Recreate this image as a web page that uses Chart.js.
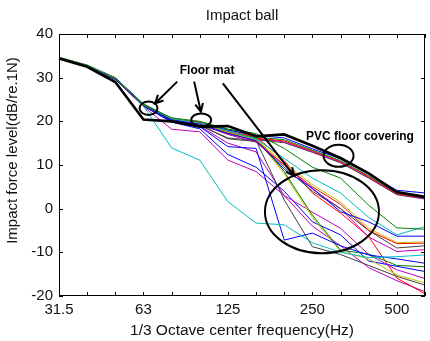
<!DOCTYPE html>
<html>
<head>
<meta charset="utf-8">
<script src="https://cdn.jsdelivr.net/npm/chart.js@4"></script>
<style>
html, body { margin: 0; padding: 0; background: #fff; }
#wrap { width: 430px; height: 341px; }
</style>
</head>
<body>
<div id="wrap"><canvas id="graph" width="430" height="341"></canvas></div>
<script>
// 1/3 octave bands and the labels that are printed
var bands = ['31.5', '40', '50', '63', '80', '100', '125', '160', '200', '250', '315', '400', '500', '630'];
var tickLabels = ['31.5', '63', '125', '250', '500'];

// bare floor (thick black)
var bareFloor = [34.4, 32.5, 29.0, 20.4, 20.0, 18.8, 18.9, 16.6, 17.0, 14.4, 11.6, 8.1, 3.8, 2.7];

// PVC floor covering
var pvcBlue    = [34.6, 32.8, 29.9, 23.9, 20.6, 19.6, 18.0, 16.8, 16.2, 13.7, 11.4, 7.9, 4.2, 3.6];
var pvcGreen   = [34.5, 32.7, 29.7, 23.6, 20.4, 19.8, 18.2, 16.4, 15.8, 13.4, 11.0, 7.5, 3.6, 2.5];
var pvcRed     = [34.6, 32.8, 29.8, 23.7, 20.5, 19.3, 17.8, 16.2, 15.5, 13.2, 10.8, 7.3, 3.4, 2.4];
var pvcMagenta = [34.5, 32.6, 29.6, 23.5, 20.3, 19.5, 17.6, 16.0, 15.3, 13.0, 10.6, 7.1, 3.3, 2.3];
var pvcGray    = [34.7, 32.9, 30.0, 24.0, 20.7, 19.0, 17.4, 15.8, 15.1, 12.9, 10.5, 7.0, 3.2, 2.2];

// floor mats
var mat1  = [34.6, 32.8, 29.8, 23.8, 20.8, 20.0, 18.2, 17.2, 13.8, 9.5, 7.0, 0.8, -4.4, -4.7];
var mat2  = [34.6, 32.8, 29.8, 23.8, 20.6, 19.6, 17.8, 16.0, 11.5, 7.0, 3.6, -2.0, -6.0, -4.1];
var mat3  = [34.5, 32.7, 29.7, 23.7, 20.4, 19.4, 17.2, 15.6, 9.0, 4.7, -0.7, -3.0, -6.3, -6.3];
var mat4  = [34.6, 32.8, 29.8, 23.8, 20.5, 19.5, 17.5, 15.8, 10.5, 5.5, 1.5, -4.5, -7.8, -7.6];
var mat5  = [34.6, 32.8, 29.8, 23.8, 20.6, 19.8, 17.4, 15.5, 10.0, 5.0, 1.0, -5.0, -8.0, -7.9];
var mat6  = [34.5, 32.7, 29.7, 23.6, 20.3, 19.2, 16.0, 15.4, 9.5, 4.0, 0.0, -5.0, -9.0, -8.5];
var mat7  = [34.5, 32.7, 29.7, 23.7, 20.4, 19.3, 17.0, 15.2, 10.0, 4.5, 0.0, -6.5, -9.8, -9.4];
var mat8  = [34.6, 32.8, 29.8, 23.5, 13.9, 11.1, 1.6, -3.3, -3.7, -7.8, -10.0, -11.2, -11.0, -10.6];
var mat9  = [34.5, 32.7, 29.7, 23.6, 20.0, 18.8, 14.2, 13.8, -7.2, -5.6, -8.5, -10.6, -11.5, -12.5];
var mat10 = [34.6, 32.8, 29.8, 23.8, 20.5, 19.6, 17.3, 16.2, 8.5, -1.5, -9.5, -10.4, -13.0, -13.3];
var mat11 = [34.6, 32.8, 29.8, 23.8, 20.4, 19.4, 17.0, 16.0, 8.0, -2.0, -9.8, -11.5, -15.2, -17.0];
var mat12 = [34.5, 32.7, 29.7, 23.6, 20.2, 19.0, 16.2, 15.6, 2.0, -8.7, -10.5, -13.0, -15.5, -17.5];
var mat13 = [34.5, 32.7, 29.6, 23.4, 18.2, 17.6, 11.1, 8.5, 3.0, -0.8, -4.5, -10.5, -14.0, -16.0];
var mat14 = [34.5, 32.7, 29.6, 23.5, 19.8, 18.3, 12.4, 9.5, 4.0, -3.0, -6.0, -12.0, -13.2, -14.4];
var mat15 = [34.6, 32.8, 29.8, 23.8, 20.5, 19.7, 17.6, 16.5, 11.0, 3.6, -1.0, -6.4, -15.9, -19.5];
var mat16 = [34.5, 32.7, 29.7, 23.6, 20.1, 18.9, 15.0, 13.0, 3.0, -4.0, -8.5, -13.5, -16.5, -19.0];

var C = { b: '#0000ff', g: '#008000', r: '#ff0000', c: '#00bfbf', m: '#bf00bf', y: '#bfbf00', k: '#404040' };

var thinLines = [
  [mat1, C.g], [mat2, C.c], [mat3, C.b], [mat4, C.y], [mat5, C.r], [mat6, C.k], [mat7, C.m],
  [mat8, C.c], [mat9, C.b], [mat10, C.g], [mat11, C.y], [mat12, C.k], [mat13, C.m], [mat14, C.b],
  [mat15, C.r], [mat16, C.m],
  [pvcBlue, C.b], [pvcGreen, C.g], [pvcRed, C.r], [pvcMagenta, C.m], [pvcGray, C.k]
];

// annotations, placed in data units (band index, dB)
var circles = [
  { i: 3.18, v: 23.0, rx: 9, ry: 6.7 },
  { i: 5.05, v: 20.3, rx: 10, ry: 6.5 },
  { i: 9.93, v: 12.1, rx: 15, ry: 11 },
  { i: 9.34, v: -0.7, rx: 57, ry: 41.5 }
];
var arrows = [
  { i0: 4.2, v0: 29.1, i1: 3.41, v1: 24.1 },
  { i0: 4.8, v0: 29.1, i1: 5.04, v1: 22.2 },
  { i0: 5.82, v0: 28.7, i1: 8.35, v1: 7.5 }
];
var notes = [
  { text: 'Floor mat', i: 4.29, v: 31.6 },
  { text: 'PVC floor covering', i: 8.77, v: 16.5 }
];

var FONT = '"Liberation Sans", Arial, sans-serif';

var datasets = [{
  data: bareFloor, borderColor: '#000', borderWidth: 2.6
}];
thinLines.forEach(function (l) {
  datasets.push({ data: l[0], borderColor: l[1], borderWidth: 1 });
});

var decor = {
  id: 'decor',
  afterDraw: function (chart) {
    var ctx = chart.ctx, a = chart.chartArea;
    var xs = chart.scales.x, ys = chart.scales.y;
    ctx.save();
    ctx.strokeStyle = '#000';
    ctx.lineWidth = 1;
    ctx.strokeRect(a.left + 0.5, a.top + 0.5, a.right - a.left - 1, a.bottom - a.top - 1);
    ctx.beginPath();
    for (var i = 0; i < bands.length; i++) {
      var px = Math.round(xs.getPixelForValue(i)) + 0.5;
      ctx.moveTo(px, a.top); ctx.lineTo(px, a.top + 4);
      ctx.moveTo(px, a.bottom); ctx.lineTo(px, a.bottom - 4);
    }
    ys.ticks.forEach(function (t) {
      var py = Math.round(ys.getPixelForValue(t.value)) + 0.5;
      ctx.moveTo(a.left, py); ctx.lineTo(a.left + 4, py);
      ctx.moveTo(a.right, py); ctx.lineTo(a.right - 4, py);
    });
    ctx.stroke();

    // title and y label
    ctx.fillStyle = '#111';
    ctx.font = '15px ' + FONT;
    ctx.textAlign = 'center';
    ctx.textBaseline = 'middle';
    ctx.fillText('Impact ball', (a.left + a.right) / 2, 16);
    ctx.save();
    ctx.translate(12.5, 150.5);
    ctx.rotate(-Math.PI / 2);
    ctx.fillText('Impact force level(dB/re.1N)', 0, 0);
    ctx.restore();

    // annotations
    ctx.lineWidth = 2;
    circles.forEach(function (c) {
      ctx.beginPath();
      ctx.ellipse(xs.getPixelForValue(c.i), ys.getPixelForValue(c.v), c.rx, c.ry, 0, 0, Math.PI * 2);
      ctx.stroke();
    });
    arrows.forEach(function (r) {
      var x0 = xs.getPixelForValue(r.i0), y0 = ys.getPixelForValue(r.v0);
      var x1 = xs.getPixelForValue(r.i1), y1 = ys.getPixelForValue(r.v1);
      var ang = Math.atan2(y1 - y0, x1 - x0);
      ctx.beginPath();
      ctx.moveTo(x0, y0); ctx.lineTo(x1, y1);
      ctx.moveTo(x1 - 9 * Math.cos(ang - 0.45), y1 - 9 * Math.sin(ang - 0.45));
      ctx.lineTo(x1, y1);
      ctx.lineTo(x1 - 9 * Math.cos(ang + 0.45), y1 - 9 * Math.sin(ang + 0.45));
      ctx.stroke();
    });
    ctx.font = 'bold 12px ' + FONT;
    ctx.textAlign = 'left';
    ctx.fillStyle = '#000';
    notes.forEach(function (n) {
      ctx.fillText(n.text, xs.getPixelForValue(n.i), ys.getPixelForValue(n.v));
    });
    ctx.restore();
  }
};

var context = document.getElementById('graph').getContext('2d');
var chart = new Chart(context, {
  type: 'line',
  data: { labels: bands, datasets: datasets },
  options: {
    responsive: false,
    animation: false,
    devicePixelRatio: 1,
    layout: { padding: { top: 34, right: 1, left: 0, bottom: 0 } },
    plugins: {
      legend: { display: false },
      title: { display: false },
      tooltip: { enabled: false }
    },
    elements: {
      point: { radius: 0 },
      line: { tension: 0 }
    },
    scales: {
      x: {
        type: 'category',
        offset: false,
        grid: { display: false, drawTicks: false },
        border: { display: false },
        ticks: {
          autoSkip: false, maxRotation: 0, padding: 5, color: '#111',
          font: { family: FONT, size: 15 },
          callback: function (v, i) {
            return tickLabels.indexOf(bands[i]) >= 0 ? bands[i] : '';
          }
        },
        title: {
          display: true, text: '1/3 Octave center frequency(Hz)', color: '#111',
          font: { family: FONT, size: 15.5 }, padding: { top: 0, bottom: 1 }
        },
        afterFit: function (s) { s.height = 45; }
      },
      y: {
        min: -20, max: 40,
        grid: { display: false, drawTicks: false },
        border: { display: false },
        ticks: { stepSize: 10, padding: 6, color: '#111', font: { family: FONT, size: 15 } },
        afterFit: function (s) { s.width = 59; }
      }
    }
  },
  plugins: [decor]
});
</script>
</body>
</html>
